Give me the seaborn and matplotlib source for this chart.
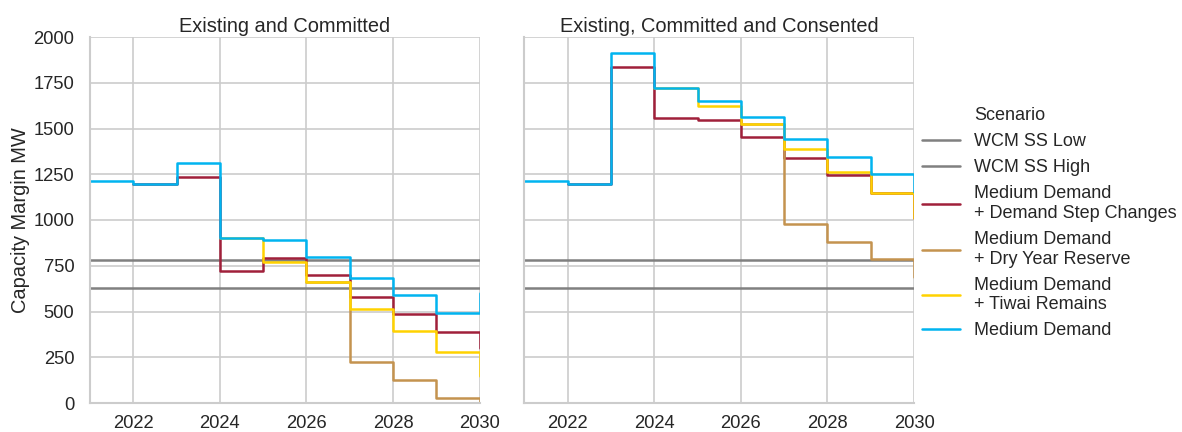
import matplotlib
matplotlib.use("Agg")
import matplotlib.pyplot as plt
from matplotlib.lines import Line2D
import numpy as np
import pandas as pd
import seaborn as sns

years = [2021, 2022, 2023, 2024, 2025, 2026, 2027, 2028, 2029, 2030]
cases = ["Existing and Committed", "Existing, Committed and Consented"]

scenarios = [
    "WCM SS Low",
    "WCM SS High",
    "Medium Demand\n+ Demand Step Changes",
    "Medium Demand\n+ Dry Year Reserve",
    "Medium Demand\n+ Tiwai Remains",
    "Medium Demand",
]
colors = ["#808080", "#808080", "#A0203A", "#C4934F", "#FFD200", "#00B4F0"]

# Security-standard reference levels (MW)
wcm_low = [630, 630, 630, 630, 630, 630, 630, 630, 630, 630]
wcm_high = [780, 780, 780, 780, 780, 780, 780, 780, 780, 780]

# Existing and Committed (None = scenario not modelled that year)
ec_step_changes = [None, 1195, 1237, 723, 791, 700, 581, 485, 390, 300]
ec_dry_year = [None, None, None, None, None, 660, 222, 126, 27, 0]
ec_tiwai = [None, None, None, 903, 769, 660, 516, 394, 277, 150]
ec_medium = [1215, 1195, 1310, 903, 891, 800, 685, 589, 494, 600]

# Existing, Committed and Consented
ecc_step_changes = [None, 1195, 1838, 1555, 1547, 1456, 1341, 1244, 1148, 1010]
ecc_dry_year = [None, None, None, None, None, 1523, 977, 880, 785, 690]
ecc_tiwai = [None, None, None, 1723, 1623, 1523, 1387, 1261, 1149, 1010]
ecc_medium = [1215, 1195, 1915, 1723, 1652, 1561, 1441, 1345, 1253, 1155]

series = {
    cases[0]: [wcm_low, wcm_high, ec_step_changes, ec_dry_year, ec_tiwai, ec_medium],
    cases[1]: [wcm_low, wcm_high, ecc_step_changes, ecc_dry_year, ecc_tiwai, ecc_medium],
}

rows = []
for case, vals_list in series.items():
    for scen, vals in zip(scenarios, vals_list):
        for yr, v in zip(years, vals):
            if v is None:
                continue
            rows.append({"Case": case, "Scenario": scen, "Year": yr,
                         "Capacity Margin MW": v})
df = pd.DataFrame(rows)

sns.set_theme(style="whitegrid", context="notebook")
plt.rcParams["font.family"] = ["Liberation Sans", "DejaVu Sans"]

palette = dict(zip(scenarios, colors))

g = sns.relplot(
    data=df, x="Year", y="Capacity Margin MW", hue="Scenario", col="Case",
    kind="line", hue_order=scenarios, palette=palette, estimator=None,
    drawstyle="steps-post", legend=False, col_order=cases,
    height=3.6, aspect=1.0, linewidth=1.5,
)
g.figure.set_size_inches(1182 / 120, 432 / 120)
g.figure.set_dpi(120)

g.set_titles("{col_name}", pad=3)
g.set_axis_labels("", "Capacity Margin MW")
for ax in g.axes.flat:
    ax.set_xlim(2021, 2030)
    ax.set_ylim(0, 2000)
    ax.set_xticks([2022, 2024, 2026, 2028, 2030])
    ax.set_yticks(np.arange(0, 2001, 250))
    ax.tick_params(axis="x", pad=1.5)
g.axes.flat[0].yaxis.labelpad = 2

g.figure.subplots_adjust(left=90 / 1182, right=914 / 1182,
                         bottom=1 - 403 / 432, top=1 - 37 / 432, wspace=0.115)

handles = [Line2D([], [], color="none")]
labels = ["Scenario"]
for scen, col in zip(scenarios, colors):
    handles.append(Line2D([], [], color=col, linewidth=1.5))
    labels.append(scen)
g.figure.legend(handles, labels, loc="center left",
                bbox_to_anchor=(906 / 1182, 0.483), frameon=False,
                handlelength=2.1, labelspacing=0.5, fontsize=10.8)

g.figure.savefig("out.png", dpi=120)
